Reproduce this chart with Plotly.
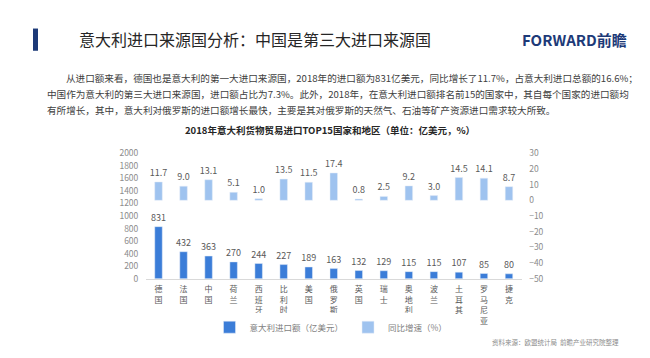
import plotly.graph_objects as go

W, H = 650, 358

countries = ["德国", "法国", "中国", "荷兰", "西班牙", "比利时", "美国", "俄罗斯",
             "英国", "瑞士", "奥地利", "波兰", "土耳其", "罗马尼亚", "捷克"]
imports = [831, 432, 363, 270, 244, 227, 189, 163, 132, 129, 115, 115, 107, 85, 80]
growth = [11.7, 9.0, 13.1, 5.1, 1.0, 13.5, 11.5, 17.4, 0.8, 2.5, 9.2, 3.0, 14.5, 14.1, 8.7]
left_ticks = list(range(0, 2001, 200))
right_ticks = list(range(-50, 31, 10))

FONT = "Noto Sans CJK SC"
cat_labels = ["<br>".join(list(c)) for c in countries]

def px(x):
    return x / W

def py(y):
    return 1 - y / H

fig = go.Figure()
fig.add_trace(go.Bar(
    x=cat_labels, y=imports, name="意大利进口额（亿美元）",
    marker_color="#3b7dd8", width=0.3,
    text=imports, textposition="outside", cliponaxis=False,
    constraintext="none",
    textfont=dict(size=9, color="#595959", family=FONT),
    yaxis="y"))
fig.add_trace(go.Bar(
    x=cat_labels, y=growth, name="同比增速（%）",
    marker_color="#9fc3ef", width=0.3,
    texttemplate="%{y:.1f}", textposition="outside", cliponaxis=False,
    constraintext="none",
    textfont=dict(size=9, color="#595959", family=FONT),
    yaxis="y2"))

x0, x1 = 138, 513.5
ytop, ybot = 143, 273

fig.update_layout(
    width=W, height=H, margin=dict(l=0, r=0, t=0, b=0),
    paper_bgcolor="white", plot_bgcolor="white",
    barmode="overlay",
    font=dict(family=FONT, color="#595959"),
    xaxis=dict(domain=[px(x0), px(x1)], type="category",
               showline=True, linecolor="#d9d9d9", linewidth=1,
               ticks="outside", ticklen=3, tickcolor="rgba(0,0,0,0)",
               tickfont=dict(size=8, color="#595959", family=FONT),
               showgrid=False),
    yaxis=dict(domain=[py(ybot), py(ytop)], range=[0, 2000],
               tickvals=left_ticks, showgrid=False, zeroline=False,
               ticks="outside", ticklen=5, tickcolor="rgba(0,0,0,0)",
               tickfont=dict(size=8.5, color="#8c8c8c", family=FONT)),
    yaxis2=dict(overlaying="y", side="right", range=[-50, 30],
                tickvals=right_ticks, showgrid=False, zeroline=False,
                ticks="outside", ticklen=5, tickcolor="rgba(0,0,0,0)",
                tickfont=dict(size=8.5, color="#8c8c8c", family=FONT)),
    legend=dict(orientation="h", x=px(323), xanchor="center",
                y=py(323), yanchor="middle",
                font=dict(size=8.5, color="#7f7f7f", family=FONT),
                itemwidth=30, traceorder="normal"),
)

# header bar
fig.add_shape(type="rect", xref="paper", yref="paper",
              x0=px(25), x1=px(30), y0=py(14), y1=py(37),
              fillcolor="#1d3a78", line_width=0)

anns = [
    dict(text="意大利进口来源国分析：中国是第三大进口来源国", x=69, y=25,
         size=16, color="#262626", anchor="left"),
    dict(text="<b>FORWARD前瞻</b>", x=512, y=25, size=15, color="#1d3a78",
         anchor="left"),
    dict(text="从进口额来看，德国也是意大利的第一大进口来源国，2018年的进口额为831亿美元，同比增长了11.7%，占意大利进口总额的16.6%；",
         x=56, y=65, size=9.6, color="#404040", anchor="left"),
    dict(text="中国作为意大利的第三大进口来源国，进口额占比为7.3%。此外，2018年，在意大利进口额排名前15的国家中，其自每个国家的进口额均",
         x=37, y=82, size=9.6, color="#404040", anchor="left"),
    dict(text="有所增长，其中，意大利对俄罗斯的进口额增长最快，主要是其对俄罗斯的天然气、石油等矿产资源进口需求较大所致。",
         x=37, y=98, size=9.6, color="#404040", anchor="left"),
    dict(text="<b>2018年意大利货物贸易进口TOP15国家和地区（单位：亿美元，%）</b>",
         x=322, y=119, size=9.5, color="#262626", anchor="center"),
    dict(text="资料来源：欧盟统计局  前瞻产业研究院整理", x=613, y=338,
         size=6.5, color="#8c8c8c", anchor="right"),
]
for a in anns:
    fig.add_annotation(text=a["text"], xref="paper", yref="paper",
                       x=px(a["x"]), y=py(a["y"]), xanchor=a["anchor"],
                       yanchor="middle", showarrow=False,
                       font=dict(size=a["size"], color=a["color"], family=FONT))

fig.write_html("out.html")
